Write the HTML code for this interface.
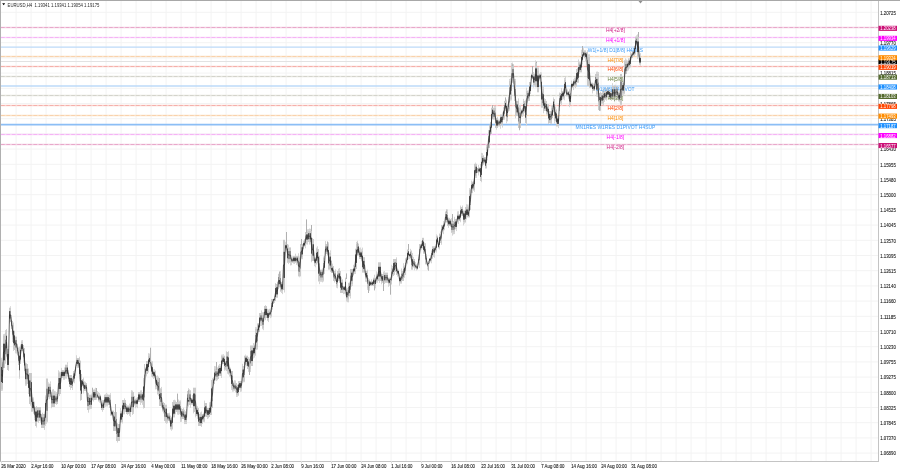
<!DOCTYPE html>
<html><head><meta charset="utf-8"><title>EURUSD,H4</title>
<style>
html,body{margin:0;padding:0;background:#fff;width:900px;height:470px;overflow:hidden}
svg{position:absolute;left:0;top:0;display:block}
text{font-family:"Liberation Sans",Arial,sans-serif;font-size:5.2px;white-space:pre}
.b{stroke:#1a1a1a;stroke-width:0.1px}
</style></head>
<body>
<svg width="900" height="470" viewBox="0 0 900 470">
<path d="M16.1 1V461 M31.1 1V461 M46.1 1V461 M61.1 1V461 M76.1 1V461 M91.1 1V461 M106.1 1V461 M121.1 1V461 M136.1 1V461 M151.1 1V461 M166.1 1V461 M181.1 1V461 M196.1 1V461 M211.1 1V461 M226.1 1V461 M241.1 1V461 M256.1 1V461 M271.1 1V461 M286.1 1V461 M301.1 1V461 M316.1 1V461 M331.1 1V461 M346.1 1V461 M361.1 1V461 M376.1 1V461 M391.1 1V461 M406.1 1V461 M421.1 1V461 M436.1 1V461 M451.1 1V461 M466.1 1V461 M481.1 1V461 M496.1 1V461 M511.1 1V461 M526.1 1V461 M541.1 1V461 M556.1 1V461 M571.1 1V461 M586.1 1V461 M601.1 1V461 M616.1 1V461 M631.1 1V461 M646.1 1V461 M661.1 1V461 M676.1 1V461 M691.1 1V461 M706.1 1V461 M721.1 1V461 M736.1 1V461 M751.1 1V461 M766.1 1V461 M781.1 1V461 M796.1 1V461 M811.1 1V461 M826.1 1V461 M841.1 1V461 M856.1 1V461 M871.1 1V461 M1 12.3H878 M1 27.5H878 M1 42.7H878 M1 57.9H878 M1 73.1H878 M1 88.3H878 M1 103.5H878 M1 118.7H878 M1 133.9H878 M1 149.1H878 M1 164.3H878 M1 179.5H878 M1 194.7H878 M1 209.9H878 M1 225.1H878 M1 240.3H878 M1 255.5H878 M1 270.7H878 M1 285.9H878 M1 301.1H878 M1 316.3H878 M1 331.5H878 M1 346.7H878 M1 361.9H878 M1 377.1H878 M1 392.3H878 M1 407.5H878 M1 422.7H878 M1 437.9H878 M1 453.1H878" stroke="#f3f3f3" stroke-width="1" fill="none"/>
<path d="M1 27.5H878" stroke="#f4d0e2" stroke-width="1.3"/>
<path d="M1 27.5H878" stroke="#e8a8ca" stroke-width="1.1" stroke-dasharray="3.7 1.7"/>
<path d="M1 37.5H878" stroke="#f9d6f9" stroke-width="1.3"/>
<path d="M1 37.5H878" stroke="#f5b4f5" stroke-width="1.1" stroke-dasharray="3.7 1.7"/>
<path d="M1 47.1H878" stroke="#bcdaf8" stroke-width="1.4"/>
<path d="M1 56.5H878" stroke="#fbe2c8" stroke-width="1.3"/>
<path d="M1 56.5H878" stroke="#f9d2ac" stroke-width="1.1" stroke-dasharray="3.7 1.7"/>
<path d="M1 66.5H878" stroke="#f9d2ce" stroke-width="1.3"/>
<path d="M1 66.5H878" stroke="#f5b0aa" stroke-width="1.1" stroke-dasharray="3.7 1.7"/>
<path d="M1 76.5H878" stroke="#e6e6e0" stroke-width="1.3"/>
<path d="M1 76.5H878" stroke="#d4d4cc" stroke-width="1.1" stroke-dasharray="3.7 1.7"/>
<path d="M1 86H878" stroke="#bcdaf8" stroke-width="1.4"/>
<path d="M1 95.5H878" stroke="#e6e6e0" stroke-width="1.3"/>
<path d="M1 95.5H878" stroke="#d4d4cc" stroke-width="1.1" stroke-dasharray="3.7 1.7"/>
<path d="M1 105.5H878" stroke="#f9d2ce" stroke-width="1.3"/>
<path d="M1 105.5H878" stroke="#f5b0aa" stroke-width="1.1" stroke-dasharray="3.7 1.7"/>
<path d="M1 115.5H878" stroke="#fbe2c8" stroke-width="1.3"/>
<path d="M1 115.5H878" stroke="#f9d2ac" stroke-width="1.1" stroke-dasharray="3.7 1.7"/>
<path d="M1 124.7H878" stroke="#8cbef5" stroke-width="1.8"/>
<path d="M1 134.5H878" stroke="#f9d6f9" stroke-width="1.3"/>
<path d="M1 134.5H878" stroke="#f5b4f5" stroke-width="1.1" stroke-dasharray="3.7 1.7"/>
<path d="M1 144.5H878" stroke="#f4d0e2" stroke-width="1.3"/>
<path d="M1 144.5H878" stroke="#e8a8ca" stroke-width="1.1" stroke-dasharray="3.7 1.7"/>
<path d="M1 61.5H878" stroke="#e2e2e2" stroke-width="1"/>
<path d="M1.5 357.77V360 M1.5 389V390.98 M2.5 362.08V364 M2.5 389V390.75 M3.5 334.27V336 M4.5 333.82V336 M5.5 330.05V333 M5.5 361V363.69 M6.5 328.94V330 M6.5 354V356.6 M8.5 370V370.93 M9.5 322V323.49 M10.5 306.24V307.7 M11.5 314.94V317 M12.5 339V341.96 M13.5 322.53V325 M13.5 349V350.88 M15.5 351V353.33 M16.5 351V353.65 M17.5 343.74V346 M17.5 353V355.34 M19.5 346.73V349 M19.5 377V378.82 M20.5 344.57V345.5 M21.5 340.34V342 M22.5 339.99V342 M23.5 361V362.71 M25.5 362.69V364 M25.5 384V385.87 M26.5 363.19V364 M26.5 384V385.61 M30.5 404V405.68 M31.5 411V411.95 M32.5 397.45V399 M32.5 411V411.8 M33.5 397.4V399 M33.5 411V413.72 M34.5 401.65V403 M34.5 418.5V420.1 M36.5 406.01V407 M36.5 426V427.55 M37.5 421V421.85 M38.5 421V422.99 M40.5 421V422.61 M42.5 412.71V414 M44.5 428V429.94 M45.5 395.39V396.25 M45.5 424.5V425.87 M46.5 421V423.86 M47.5 421V422.29 M48.5 382.35V383.6 M49.5 397V399.24 M50.5 381.35V383.6 M51.5 407V408.19 M52.5 389.44V392 M53.5 389.12V392 M54.5 390.87V392 M55.5 391.38V394 M56.5 391.99V394 M56.5 404V404.83 M58.5 370.28V373 M59.5 371.56V373 M59.5 394V396.09 M60.5 371.91V373 M61.5 367.92V370 M63.5 378V379.77 M64.5 367.44V370 M64.5 378V379.84 M65.5 376.6V378.54 M66.5 376.6V378.63 M67.5 362.2V364.7 M70.5 388V389.97 M72.5 388V390.03 M73.5 381V382.07 M74.5 369.67V371 M74.5 381V383.27 M75.5 373.5V375.88 M76.5 355.26V358 M77.5 366V367.87 M78.5 366V367.75 M79.5 356.77V358 M79.5 379V381.39 M80.5 400V400.84 M83.5 377.62V379 M83.5 391V393.51 M84.5 381.27V383 M85.5 381.87V383 M86.5 391V391.93 M87.5 392.04V393 M88.5 410V412.68 M89.5 408V409.55 M90.5 408V409.08 M91.5 393.66V394.7 M91.5 408V408.91 M92.5 388.13V389.6 M93.5 400V401.56 M94.5 388.77V389.6 M95.5 387.76V389.6 M96.5 398V399.89 M97.5 391.09V393 M98.5 392.07V394.7 M99.5 393.14V394.7 M99.5 401.5V402.59 M100.5 401.5V402.66 M102.5 400.17V401.5 M102.5 410V411.81 M103.5 400.12V401.5 M104.5 405V407.92 M105.5 393.9V394.7 M105.5 405V406.84 M106.5 392.79V394.7 M106.5 405V406.38 M107.5 393.81V394.7 M107.5 405V406.47 M110.5 393.18V394.7 M117.5 423.13V424 M117.5 441V442.59 M120.5 408.05V410.6 M122.5 422.5V423.46 M123.5 412V414.43 M124.5 398.36V400 M124.5 412V414.3 M126.5 404.14V405.5 M127.5 414V414.93 M129.5 403.56V405.5 M129.5 414V415.83 M130.5 414V416.95 M131.5 390.19V392 M132.5 390.61V392 M132.5 412V414.88 M133.5 412V413.95 M134.5 396.1V398.7 M135.5 405.5V408.27 M136.5 397.89V398.7 M136.5 405.5V407.29 M137.5 397.14V398.7 M137.5 405.5V408.15 M140.5 390.38V392 M140.5 402V405 M141.5 390.26V392 M141.5 402V402.91 M142.5 402V404.86 M143.5 378.08V380 M143.5 407V408.62 M146.5 374V376.41 M148.5 353.16V356 M148.5 370.6V372.44 M149.5 353.57V356 M150.5 364V366.03 M151.5 362.84V364 M151.5 374V376.79 M152.5 361.21V364 M153.5 369.38V370.6 M153.5 377.4V378.95 M154.5 369.23V370.6 M155.5 387.7V389.41 M156.5 375.86V377.4 M156.5 387.7V389.11 M157.5 375.49V377.4 M158.5 376.6V378 M158.5 394.5V396.18 M160.5 388.13V389 M161.5 386.91V389 M161.5 406V407.66 M163.5 401.96V403 M163.5 411.5V413.45 M165.5 421V423.01 M166.5 421V423.82 M167.5 412.92V414 M167.5 421V423.2 M168.5 413.05V414 M169.5 412.71V414 M170.5 415.59V417.4 M171.5 429.4V430.72 M173.5 400.1V402 M174.5 399.73V402 M175.5 400.46V402 M175.5 412V414.3 M177.5 399.07V402 M177.5 412V414.6 M178.5 399.53V402 M178.5 412V414.89 M179.5 400.71V402 M179.5 412V414.26 M180.5 400.33V402 M180.5 419V421.94 M181.5 408.07V409 M181.5 419V421.78 M183.5 407.79V409 M184.5 409.74V412 M184.5 422.5V424.12 M185.5 411.19V412 M185.5 422.5V424.07 M186.5 409.08V412 M186.5 422.5V424.08 M187.5 405V405.91 M188.5 388.18V391 M188.5 405V406.6 M189.5 389.3V391 M190.5 390.12V391 M190.5 405V407.82 M192.5 395.09V398 M193.5 412V413.41 M195.5 416V417.31 M197.5 406.25V408 M197.5 416V418.84 M200.5 412.4V414 M201.5 411.54V414 M201.5 426V426.94 M202.5 421V423.96 M203.5 421V421.98 M204.5 400.64V403 M204.5 421V422.32 M207.5 417V419.05 M208.5 417V418.34 M209.5 402.25V405 M210.5 402.02V405 M212.5 378.16V380 M213.5 384V385.45 M214.5 366.06V369 M215.5 366.29V369 M215.5 379V380.37 M216.5 379V381.11 M217.5 367.39V369 M217.5 379V380.25 M219.5 363.98V365.5 M220.5 364.25V365.5 M221.5 354.68V355.7 M221.5 376V378.01 M222.5 354.54V355.7 M223.5 354.22V355.7 M224.5 369V370.72 M225.5 369V370.23 M226.5 351.19V352 M227.5 371V373.74 M228.5 351.17V352 M229.5 374.5V376.67 M230.5 374.5V375.92 M231.5 388V389.88 M232.5 390.6V391.68 M233.5 390.6V391.52 M234.5 380.21V383 M235.5 380.47V383 M235.5 390.6V392.29 M236.5 395.7V396.98 M237.5 395.7V396.77 M240.5 389.8V391.92 M241.5 389.8V391.52 M242.5 363.75V366 M242.5 381V382.76 M243.5 381V382.32 M244.5 381V382.2 M245.5 354.62V355.7 M245.5 364V365 M246.5 364V366.2 M248.5 357.09V359 M248.5 369V371.89 M250.5 369V371.96 M253.5 343.04V345.5 M253.5 355.7V358.47 M254.5 355.7V357.6 M255.5 327.12V328.5 M256.5 327.3V328.5 M256.5 347V349.86 M257.5 347V349.53 M260.5 323V325.98 M261.5 310.45V313 M261.5 323V325.98 M262.5 312.22V314.7 M262.5 328V329.19 M263.5 312.1V314.7 M263.5 328V330.21 M265.5 305.13V306 M265.5 318V320.16 M267.5 308.76V311 M267.5 320V320.81 M268.5 309.41V311 M268.5 320V322.08 M269.5 308.83V311 M269.5 316V317.1 M270.5 309.87V311 M270.5 316V318.2 M271.5 316V317.38 M273.5 301V303.86 M274.5 295.71V298.5 M274.5 301V302.97 M275.5 283.07V284 M277.5 281.86V284 M278.5 287.4V288.88 M279.5 271.04V273.8 M280.5 271.14V273.8 M281.5 291.7V293 M282.5 281.11V282 M282.5 291.7V294.15 M284.5 290V292.53 M285.5 241.79V244 M286.5 249V250.37 M288.5 244.66V247.4 M288.5 262.8V264.13 M290.5 262.8V265.45 M291.5 262.8V265.19 M292.5 256.43V257.7 M293.5 262.8V263.66 M294.5 262.8V263.91 M295.5 253.68V256 M296.5 262.8V264.9 M298.5 253.29V256 M299.5 256.45V257.7 M299.5 276.4V277.28 M301.5 257.7V258.72 M302.5 257.7V259.2 M303.5 240.64V242 M303.5 246.6V248.97 M304.5 239.08V242 M305.5 246.6V248.31 M306.5 242V244.35 M307.5 229.3V232 M307.5 242V244.6 M308.5 229.16V230.4 M309.5 228.52V230.4 M309.5 242V244.55 M310.5 228.84V230.4 M311.5 261V262.27 M312.5 237.96V239 M314.5 264.5V266.18 M315.5 264.5V267.25 M316.5 247.62V249 M317.5 246.26V249 M317.5 261V262.81 M319.5 256.18V257.7 M319.5 281.5V284.15 M320.5 280V281.77 M321.5 280V281.82 M322.5 268.38V269.6 M322.5 280V282.35 M323.5 256.56V257.7 M323.5 280V281.52 M324.5 256.18V257.7 M324.5 271V273.95 M325.5 241.08V244 M325.5 254V255.65 M327.5 241.8V244 M327.5 254V255.25 M328.5 242.32V244 M330.5 250.37V252.5 M330.5 269.6V272.03 M331.5 263.94V266 M332.5 263.61V266 M334.5 281V282.49 M335.5 269.28V271 M336.5 286V287.73 M337.5 286V288.29 M338.5 268.76V271 M339.5 268.06V271 M339.5 281V283 M341.5 277.34V279.4 M343.5 291.3V294.19 M344.5 291.3V293.78 M345.5 294.7V295.62 M346.5 288.77V289.6 M346.5 299.8V301.53 M347.5 288.22V289.6 M347.5 299.8V302.23 M348.5 299.8V302.36 M349.5 281.72V282.8 M350.5 296.4V298.44 M351.5 284.5V286.71 M352.5 284.5V285.95 M353.5 264.77V267.4 M353.5 272.6V275.27 M354.5 266.04V267.4 M354.5 272.6V273.81 M355.5 272.6V273.94 M356.5 241.86V243.6 M357.5 240.76V243.6 M359.5 247.77V250.4 M360.5 247.51V250.4 M361.5 249.29V250.4 M361.5 259V261.51 M362.5 247.61V250.4 M365.5 279.4V281.72 M366.5 279.4V282.14 M367.5 269.58V270.9 M367.5 288V289.88 M368.5 278.28V279.4 M368.5 288V289.9 M369.5 288V290.65 M371.5 279.28V281 M374.5 274.74V277.7 M375.5 286V288.38 M376.5 271.3V274 M376.5 281V282.84 M377.5 281V282.76 M379.5 281V282.91 M381.5 282.8V284.3 M383.5 271.61V274 M384.5 271.14V272.6 M384.5 282.8V284.02 M388.5 284.5V286.77 M389.5 284.5V285.7 M391.5 264.79V267.4 M392.5 265.94V267.4 M392.5 276V277.5 M394.5 274V275.06 M396.5 257.35V259 M397.5 275V276.71 M398.5 275V276.13 M399.5 273.7V276 M399.5 282.8V285.73 M400.5 282.8V283.64 M401.5 268.49V270.9 M401.5 282.8V283.71 M403.5 263.22V265.4 M404.5 275V277.92 M405.5 258.17V259 M406.5 257.52V259 M407.5 263.3V264.23 M408.5 257V259.29 M409.5 257V259.22 M410.5 248.85V250.5 M412.5 252.96V255.9 M413.5 256.87V259 M414.5 268.6V270.34 M415.5 262.09V264.4 M416.5 269.7V270.5 M417.5 263.31V265.4 M418.5 254.37V257 M419.5 265.4V268.07 M421.5 240.98V243 M424.5 242.64V244 M425.5 243.01V244 M426.5 253.82V255.9 M427.5 267.5V269.6 M428.5 261V262.2 M429.5 261.2V263.14 M430.5 255.01V258 M430.5 261.2V262.23 M431.5 261.2V263.31 M432.5 258V258.87 M433.5 254.8V256.85 M434.5 254.8V257.68 M436.5 234.36V235.6 M436.5 251.6V252.58 M439.5 248.4V249.46 M440.5 231.46V233.5 M441.5 243V244.79 M443.5 221.14V222.5 M443.5 231.4V234.19 M444.5 227.7V230.23 M446.5 209.04V211.5 M447.5 209.4V211.5 M448.5 217.63V219 M448.5 226V227.86 M449.5 217.89V219 M450.5 226V226.88 M451.5 218.05V220.9 M452.5 219.12V220.9 M452.5 232.8V235.64 M453.5 232.8V234.35 M454.5 216.82V219 M454.5 232.8V234.09 M456.5 229.4V231.11 M457.5 211.35V214 M457.5 221V222.17 M458.5 211.21V214 M458.5 221V223.95 M460.5 205.57V207 M460.5 221V222.24 M462.5 205.56V207 M463.5 222.5V225.45 M464.5 222.5V223.61 M466.5 204.19V207 M466.5 217.4V219.46 M467.5 204.51V207 M468.5 209.61V210.6 M469.5 188.15V189.4 M471.5 180.59V183 M471.5 190.6V192.99 M472.5 190.6V193.25 M473.5 180.87V181.7 M474.5 190.6V191.81 M475.5 162.64V163.8 M475.5 176V178.11 M476.5 176V177.93 M478.5 164.94V167.3 M478.5 173V175.45 M481.5 152.87V155.8 M481.5 181V182.2 M482.5 153.2V155.8 M482.5 164.7V165.71 M483.5 154.96V155.8 M486.5 144.91V146.8 M487.5 145.11V146.8 M487.5 158.3V160.4 M488.5 129.94V132 M490.5 122.05V124.7 M492.5 106.16V107.7 M492.5 116V118.96 M494.5 105.76V107.7 M495.5 105.97V107.7 M496.5 128V129.75 M497.5 116.79V117.9 M500.5 126.4V128.69 M502.5 112.56V114.5 M502.5 124.7V127.59 M503.5 107.18V109.4 M503.5 117.9V120.01 M504.5 117.9V119.73 M505.5 99.83V100.9 M505.5 109.4V110.85 M506.5 99.56V100.9 M506.5 121.3V123.3 M508.5 96.64V99 M508.5 109.4V111.41 M509.5 78.92V80.4 M509.5 109.4V110.69 M510.5 78.31V80.4 M510.5 99V100.58 M511.5 62.98V65 M511.5 99V100.43 M512.5 62.5V65 M512.5 82V82.95 M513.5 64.06V65 M513.5 82V83.77 M514.5 79.1V80.4 M515.5 78.86V80.4 M515.5 116V118.29 M518.5 98.37V100.9 M519.5 104.98V107.7 M519.5 128V130.48 M520.5 104.78V107.7 M522.5 107.6V109.4 M522.5 114.5V116.89 M523.5 98.88V100.9 M523.5 114.5V116.01 M524.5 111V112.78 M525.5 99.78V100.9 M526.5 87.78V90.6 M526.5 123V125.66 M527.5 100.9V102.64 M528.5 89.7V90.6 M531.5 78.7V80.29 M532.5 70.71V73.6 M533.5 71.98V73.6 M533.5 85.5V87.53 M535.5 60.33V62.5 M537.5 67.25V70.2 M538.5 67.43V70.2 M540.5 72.16V73.6 M541.5 72.4V73.6 M542.5 86.01V89 M543.5 86.47V89 M543.5 111V113.32 M544.5 98.25V100.9 M545.5 99V100.9 M547.5 114.5V115.57 M548.5 123V124.02 M550.5 123V123.83 M551.5 105.33V107.7 M551.5 123V124.17 M552.5 104.91V107.7 M553.5 97.35V99 M553.5 109.4V112.16 M554.5 121.3V123.46 M555.5 106.55V109.4 M558.5 126.4V128.06 M559.5 92.52V94 M560.5 103V104.18 M561.5 88.06V91 M561.5 103V105.04 M562.5 98V99.69 M563.5 88.38V91 M563.5 98V99.34 M564.5 77.98V79.3 M564.5 98V100.26 M565.5 76.95V79.3 M565.5 91V92.39 M566.5 89.22V91 M567.5 89.42V91 M568.5 96.3V99.19 M569.5 89.2V91 M569.5 104.8V107.15 M571.5 80.56V82.7 M571.5 87.8V90.52 M573.5 87.8V90.05 M574.5 77.64V79.3 M574.5 86V87.19 M575.5 77.04V79.3 M575.5 86V88.04 M576.5 86V86.95 M577.5 67.92V69 M578.5 59.4V62.2 M579.5 72.4V73.81 M581.5 49.75V52 M582.5 62.2V64.38 M583.5 48.19V51 M584.5 50.11V51 M584.5 57V58.24 M585.5 50.11V51 M585.5 58.8V61 M587.5 50.24V52 M588.5 54.36V57 M589.5 54.32V57 M590.5 81.66V82.7 M592.5 91V93.44 M593.5 83.4V84.4 M596.5 71.66V74 M596.5 94.6V96.53 M597.5 71.52V74 M597.5 94.6V96.95 M598.5 72V74 M599.5 110V110.93 M600.5 91.76V93 M600.5 110V111.1 M601.5 103V104.33 M602.5 90.14V93 M602.5 103V104.46 M603.5 88.96V91 M603.5 103V105.59 M604.5 99.7V101.97 M605.5 88.51V91 M606.5 87.91V89.5 M606.5 99.7V100.63 M607.5 87.16V89.5 M607.5 96.3V97.35 M608.5 87.9V89.5 M608.5 96.3V97.26 M611.5 89.12V91 M611.5 99.7V100.92 M612.5 83.18V86 M614.5 84.89V86 M614.5 99.7V102.2 M615.5 84.79V86 M616.5 98V100.53 M617.5 98V99.21 M618.5 91.39V93 M619.5 101.4V102.29 M622.5 81.55V82.7 M622.5 93V95.08 M623.5 93V94.78 M624.5 60.11V61 M624.5 93V94.22 M625.5 58.35V61 M626.5 59.58V61 M627.5 60.45V62 M627.5 69V71.27 M628.5 69V70.45 M629.5 67.3V68.53 M630.5 51.39V53.2 M635.5 53V54.56 M636.5 35.38V36.6 M637.5 34.35V36.6 M637.5 57V59.08 M639.5 54.6V55.8 M640.5 53.1V55.8 M640.5 64.7V65.71" stroke="#d4d4d4" stroke-width="1" fill="none"/>
<path d="M1.5 360V389 M2.5 364V389 M3.5 336V368 M4.5 336V368 M5.5 333V361 M6.5 330V354 M7.5 349V370 M8.5 349V370 M9.5 307.7V322 M10.5 307.7V322 M11.5 317V329 M12.5 321V339 M13.5 325V349 M14.5 330.8V350 M15.5 336.6V351 M16.5 336.6V351 M17.5 346V353 M18.5 347.5V365 M19.5 349V377 M20.5 345.5V364 M21.5 342V351 M22.5 342V351 M23.5 345V361 M24.5 348V371 M25.5 364V384 M26.5 364V384 M27.5 364V384 M28.5 368.5V394 M29.5 373V404 M30.5 373V404 M31.5 373V411 M32.5 399V411 M33.5 399V411 M34.5 403V418.5 M35.5 407V426 M36.5 407V426 M37.5 407V421 M38.5 407V421 M39.5 407V421 M40.5 407V421 M41.5 414V428 M42.5 414V428 M43.5 414V428 M44.5 414V428 M45.5 396.25V424.5 M46.5 378.5V421 M47.5 378.5V421 M48.5 383.6V397 M49.5 383.6V397 M50.5 383.6V397 M51.5 392V407 M52.5 392V407 M53.5 392V407 M54.5 392V407 M55.5 394V404 M56.5 394V404 M57.5 394V404 M58.5 373V394 M59.5 373V394 M60.5 373V394 M61.5 370V378 M62.5 370V378 M63.5 370V378 M64.5 370V378 M65.5 364.7V376.6 M66.5 364.7V376.6 M67.5 364.7V376.6 M68.5 369.85V381.8 M69.5 375V387 M70.5 375V388 M71.5 375V388 M72.5 379V388 M73.5 371V381 M74.5 371V381 M75.5 364.5V373.5 M76.5 358V366 M77.5 358V366 M78.5 358V366 M79.5 358V379 M80.5 360.6V400 M81.5 374V400 M82.5 379V386 M83.5 379V391 M84.5 383V391 M85.5 383V391 M86.5 383V391 M87.5 393V410 M88.5 393V410 M89.5 394.7V408 M90.5 394.7V408 M91.5 394.7V408 M92.5 389.6V400 M93.5 389.6V400 M94.5 389.6V400 M95.5 389.6V400 M96.5 393V398 M97.5 393V398 M98.5 394.7V401.5 M99.5 394.7V401.5 M100.5 394.7V401.5 M101.5 401.5V410 M102.5 401.5V410 M103.5 401.5V410 M104.5 394.7V405 M105.5 394.7V405 M106.5 394.7V405 M107.5 394.7V405 M108.5 394.7V405 M109.5 394.7V408 M110.5 394.7V415.7 M111.5 410.6V415.7 M112.5 410.6V415.7 M113.5 410.6V431 M114.5 412V431 M115.5 412V431 M116.5 412V441 M117.5 424V441 M118.5 424V441 M119.5 424V441 M120.5 410.6V422.5 M121.5 410.6V422.5 M122.5 400V422.5 M123.5 400V412 M124.5 400V412 M125.5 400V412 M126.5 405.5V414 M127.5 405.5V414 M128.5 405.5V414 M129.5 405.5V414 M130.5 405.5V414 M131.5 392V412 M132.5 392V412 M133.5 392V412 M134.5 398.7V405.5 M135.5 398.7V405.5 M136.5 398.7V405.5 M137.5 398.7V405.5 M138.5 392V402 M139.5 392V402 M140.5 392V402 M141.5 392V402 M142.5 392V402 M143.5 380V407 M144.5 364V408 M145.5 367.4V374 M146.5 361V374 M147.5 361V374 M148.5 356V370.6 M149.5 356V364 M150.5 356V364 M151.5 364V374 M152.5 364V377.4 M153.5 370.6V377.4 M154.5 370.6V377.4 M155.5 370.6V387.7 M156.5 377.4V387.7 M157.5 377.4V394.5 M158.5 378V394.5 M159.5 378V406 M160.5 389V406 M161.5 389V406 M162.5 403V411.5 M163.5 403V411.5 M164.5 403V421 M165.5 404.7V421 M166.5 404.7V421 M167.5 414V421 M168.5 414V421 M169.5 414V421 M170.5 417.4V429.4 M171.5 417.4V429.4 M172.5 402V429.4 M173.5 402V417.4 M174.5 402V417.4 M175.5 402V412 M176.5 402V412 M177.5 402V412 M178.5 402V412 M179.5 402V412 M180.5 402V419 M181.5 409V419 M182.5 409V419 M183.5 409V419 M184.5 412V422.5 M185.5 412V422.5 M186.5 412V422.5 M187.5 391V405 M188.5 391V405 M189.5 391V405 M190.5 391V405 M191.5 398V404.7 M192.5 398V404.7 M193.5 387.7V412 M194.5 387.7V412 M195.5 387.7V416 M196.5 408V416 M197.5 408V416 M198.5 408V426 M199.5 414V426 M200.5 414V426 M201.5 414V426 M202.5 414V421 M203.5 414V421 M204.5 403V421 M205.5 403V416.6 M206.5 403V417 M207.5 408V417 M208.5 408V417 M209.5 405V417 M210.5 405V415 M211.5 380V415 M212.5 380V408 M213.5 379V384 M214.5 369V384 M215.5 369V379 M216.5 369V379 M217.5 369V379 M218.5 365.5V379 M219.5 365.5V376 M220.5 365.5V376 M221.5 355.7V376 M222.5 355.7V364 M223.5 355.7V364 M224.5 355.7V369 M225.5 361V369 M226.5 352V371 M227.5 352V371 M228.5 352V374.5 M229.5 367.7V374.5 M230.5 367.7V374.5 M231.5 371V388 M232.5 371V390.6 M233.5 383V390.6 M234.5 383V390.6 M235.5 383V390.6 M236.5 383V395.7 M237.5 384.7V395.7 M238.5 381V395.7 M239.5 381V389.8 M240.5 381V389.8 M241.5 381V389.8 M242.5 366V381 M243.5 366V381 M244.5 355.7V381 M245.5 355.7V364 M246.5 355.7V364 M247.5 355.7V369 M248.5 359V369 M249.5 359V369 M250.5 345.5V369 M251.5 345.5V366 M252.5 345.5V366 M253.5 345.5V355.7 M254.5 345.5V355.7 M255.5 328.5V355.7 M256.5 328.5V347 M257.5 323.4V347 M258.5 323.4V332 M259.5 313V332 M260.5 313V323 M261.5 313V323 M262.5 314.7V328 M263.5 314.7V328 M264.5 306V318 M265.5 306V318 M266.5 306V318 M267.5 311V320 M268.5 311V320 M269.5 311V316 M270.5 311V316 M271.5 299V316 M272.5 299V309.6 M273.5 298.5V301 M274.5 298.5V301 M275.5 284V301 M276.5 284V297.7 M277.5 284V297.7 M278.5 273.8V287.4 M279.5 273.8V287.4 M280.5 273.8V291.7 M281.5 282V291.7 M282.5 282V291.7 M283.5 239.8V290 M284.5 239.8V290 M285.5 244V249 M286.5 244V249 M287.5 244V262.8 M288.5 247.4V262.8 M289.5 247.4V262.8 M290.5 247.4V262.8 M291.5 257.7V262.8 M292.5 257.7V262.8 M293.5 256V262.8 M294.5 256V262.8 M295.5 256V262.8 M296.5 256V262.8 M297.5 256V262.8 M298.5 256V276.4 M299.5 257.7V276.4 M300.5 244V276.4 M301.5 244V257.7 M302.5 244V257.7 M303.5 242V246.6 M304.5 242V246.6 M305.5 232V246.6 M306.5 232V242 M307.5 232V242 M308.5 230.4V242 M309.5 230.4V242 M310.5 230.4V242 M311.5 230.4V261 M312.5 239V261 M313.5 239V261 M314.5 257.7V264.5 M315.5 257.7V264.5 M316.5 249V264.5 M317.5 249V261 M318.5 249V281.5 M319.5 257.7V281.5 M320.5 269.6V280 M321.5 269.6V280 M322.5 269.6V280 M323.5 257.7V280 M324.5 257.7V271 M325.5 244V254 M326.5 244V254 M327.5 244V254 M328.5 244V269.6 M329.5 252.5V269.6 M330.5 252.5V269.6 M331.5 266V273 M332.5 266V273 M333.5 266V281 M334.5 271V281 M335.5 271V281 M336.5 277.7V286 M337.5 271V286 M338.5 271V281 M339.5 271V281 M340.5 271V293 M341.5 279.4V293 M342.5 279.4V293 M343.5 286V291.3 M344.5 286V291.3 M345.5 277.7V294.7 M346.5 289.6V299.8 M347.5 289.6V299.8 M348.5 282.8V299.8 M349.5 282.8V296.4 M350.5 269V296.4 M351.5 269V284.5 M352.5 269V284.5 M353.5 267.4V272.6 M354.5 267.4V272.6 M355.5 248.7V272.6 M356.5 243.6V269 M357.5 243.6V255.5 M358.5 243.6V255.5 M359.5 250.4V259 M360.5 250.4V259 M361.5 250.4V259 M362.5 250.4V272.6 M363.5 257.2V272.6 M364.5 257.2V272.6 M365.5 270.9V279.4 M366.5 270.9V279.4 M367.5 270.9V288 M368.5 279.4V288 M369.5 279.4V288 M370.5 281V286 M371.5 281V286 M372.5 281V286 M373.5 277.7V286 M374.5 277.7V286 M375.5 277.7V286 M376.5 274V281 M377.5 274V281 M378.5 262.3V281 M379.5 262.3V281 M380.5 262.3V281 M381.5 274V282.8 M382.5 274V282.8 M383.5 274V282.8 M384.5 272.6V282.8 M385.5 272.6V282.8 M386.5 272.6V282.8 M387.5 272.6V282.8 M388.5 277.7V284.5 M389.5 277.7V284.5 M390.5 277.7V284.5 M391.5 267.4V284.5 M392.5 267.4V276 M393.5 259V276 M394.5 259V274 M395.5 259V271.8 M396.5 259V275 M397.5 269.7V275 M398.5 269.7V275 M399.5 276V282.8 M400.5 276V282.8 M401.5 270.9V282.8 M402.5 270.9V281 M403.5 265.4V281 M404.5 265.4V275 M405.5 259V275 M406.5 259V263.3 M407.5 249.5V263.3 M408.5 249.5V257 M409.5 253.7V257 M410.5 250.5V258 M411.5 250.5V269.7 M412.5 255.9V269.7 M413.5 259V267.5 M414.5 259V268.6 M415.5 264.4V268.6 M416.5 264.4V269.7 M417.5 265.4V269.7 M418.5 257V265.4 M419.5 244V265.4 M420.5 244V249.5 M421.5 243V249.5 M422.5 237.8V248.4 M423.5 237.8V253.7 M424.5 244V253.7 M425.5 244V264.4 M426.5 255.9V264.4 M427.5 262.2V267.5 M428.5 262.2V267.5 M429.5 258V261.2 M430.5 258V261.2 M431.5 250.5V261.2 M432.5 246.3V258 M433.5 246.3V254.8 M434.5 246.3V254.8 M435.5 246.3V251.6 M436.5 235.6V251.6 M437.5 235.6V244.1 M438.5 243V248.4 M439.5 233.5V248.4 M440.5 233.5V243 M441.5 225V243 M442.5 225V231.4 M443.5 222.5V231.4 M444.5 222.5V227.7 M445.5 211.5V222.5 M446.5 211.5V222.5 M447.5 211.5V226 M448.5 219V226 M449.5 219V226 M450.5 219V226 M451.5 220.9V232.8 M452.5 220.9V232.8 M453.5 220.9V232.8 M454.5 219V232.8 M455.5 219V229.4 M456.5 219V229.4 M457.5 214V221 M458.5 214V221 M459.5 214V221 M460.5 207V221 M461.5 207V215.7 M462.5 207V215.7 M463.5 210.6V222.5 M464.5 210.6V222.5 M465.5 207V222.5 M466.5 207V217.4 M467.5 207V217.4 M468.5 210.6V217.4 M469.5 189.4V217.4 M470.5 189.4V210 M471.5 183V190.6 M472.5 181.7V190.6 M473.5 181.7V190.6 M474.5 163.8V190.6 M475.5 163.8V176 M476.5 163.8V176 M477.5 169V173 M478.5 167.3V173 M479.5 167.3V172.4 M480.5 164V181 M481.5 155.8V181 M482.5 155.8V164.7 M483.5 155.8V164.7 M484.5 157V163.4 M485.5 157V168.5 M486.5 146.8V168.5 M487.5 146.8V158.3 M488.5 132V148 M489.5 124.7V148 M490.5 124.7V134 M491.5 107.7V134 M492.5 107.7V116 M493.5 107.7V119.6 M494.5 107.7V119.6 M495.5 107.7V128 M496.5 117.9V128 M497.5 117.9V128 M498.5 119.6V126.4 M499.5 119.6V126.4 M500.5 114.5V126.4 M501.5 114.5V124.7 M502.5 114.5V124.7 M503.5 109.4V117.9 M504.5 100.9V117.9 M505.5 100.9V109.4 M506.5 100.9V121.3 M507.5 104.3V121.3 M508.5 99V109.4 M509.5 80.4V109.4 M510.5 80.4V99 M511.5 65V99 M512.5 65V82 M513.5 65V82 M514.5 80.4V100.9 M515.5 80.4V116 M516.5 100.9V116 M517.5 100.9V116 M518.5 100.9V128 M519.5 107.7V128 M520.5 107.7V128 M521.5 109.4V114.5 M522.5 109.4V114.5 M523.5 100.9V114.5 M524.5 100.9V111 M525.5 100.9V123 M526.5 90.6V123 M527.5 90.6V100.9 M528.5 90.6V100.9 M529.5 82V100.9 M530.5 82V94 M531.5 73.6V78.7 M532.5 73.6V78.7 M533.5 73.6V85.5 M534.5 73.6V85.5 M535.5 62.5V87.2 M536.5 62.5V87.2 M537.5 70.2V92.3 M538.5 70.2V92.3 M539.5 73.6V78.7 M540.5 73.6V78.7 M541.5 73.6V107.7 M542.5 89V107.7 M543.5 89V111 M544.5 100.9V111 M545.5 100.9V111 M546.5 100.9V114.5 M547.5 104.3V114.5 M548.5 104.3V123 M549.5 111V123 M550.5 111V123 M551.5 107.7V123 M552.5 107.7V118 M553.5 99V109.4 M554.5 99V121.3 M555.5 109.4V121.3 M556.5 109.4V126.4 M557.5 116V126.4 M558.5 116V126.4 M559.5 94V111 M560.5 93V103 M561.5 91V103 M562.5 91V98 M563.5 91V98 M564.5 79.3V98 M565.5 79.3V91 M566.5 91V96.3 M567.5 91V96.3 M568.5 91V96.3 M569.5 91V104.8 M570.5 93V104.8 M571.5 82.7V87.8 M572.5 82.7V87.8 M573.5 79.3V87.8 M574.5 79.3V86 M575.5 79.3V86 M576.5 69V86 M577.5 69V82.7 M578.5 62.2V82.7 M579.5 62.2V72.4 M580.5 62.2V72.4 M581.5 52V72.4 M582.5 52V62.2 M583.5 51V57 M584.5 51V57 M585.5 51V58.8 M586.5 52V58.8 M587.5 52V86 M588.5 57V86 M589.5 57V87.8 M590.5 82.7V87.8 M591.5 82.7V87.8 M592.5 82.7V91 M593.5 84.4V91 M594.5 84.4V91 M595.5 74V86 M596.5 74V94.6 M597.5 74V94.6 M598.5 74V110 M599.5 93V110 M600.5 93V110 M601.5 93V103 M602.5 93V103 M603.5 91V103 M604.5 91V99.7 M605.5 91V99.7 M606.5 89.5V99.7 M607.5 89.5V96.3 M608.5 89.5V96.3 M609.5 89.5V99.7 M610.5 91V99.7 M611.5 91V99.7 M612.5 86V99.7 M613.5 86V99.7 M614.5 86V99.7 M615.5 86V99.7 M616.5 86V98 M617.5 86V98 M618.5 93V101.4 M619.5 93V101.4 M620.5 74V104.8 M621.5 74V104.8 M622.5 82.7V93 M623.5 82.7V93 M624.5 61V93 M625.5 61V74 M626.5 61V74 M627.5 62V69 M628.5 58.3V69 M629.5 58.3V67.3 M630.5 53.2V67.3 M631.5 53.2V58 M632.5 51V58 M633.5 51V55.8 M634.5 46V55.8 M635.5 36.6V53 M636.5 36.6V45.5 M637.5 36.6V57 M638.5 36.6V57 M639.5 55.8V64.7 M640.5 55.8V64.7" stroke="#cacaca" stroke-width="1" fill="none"/>
<g><text x="605.98" y="32.1" font-size="5.1" textLength="18.84" lengthAdjust="spacingAndGlyphs" fill="#d02088">H4[+2/8]</text><text x="605.98" y="42.1" font-size="5.1" textLength="18.84" lengthAdjust="spacingAndGlyphs" fill="#ff00ff">H4[+1/8]</text><text x="587.84" y="51.8" font-size="5.1" textLength="55.13" lengthAdjust="spacingAndGlyphs" fill="#3c9cf8">W1[+1/8] D1[8/8] H4RES</text><text x="607.43" y="61.5" font-size="5.1" textLength="15.95" lengthAdjust="spacingAndGlyphs" fill="#ff8c00">H4[7/8]</text><text x="607.43" y="71.1" font-size="5.1" textLength="15.95" lengthAdjust="spacingAndGlyphs" fill="#ff4500">H4[6/8]</text><text x="607.43" y="80.9" font-size="5.1" textLength="15.95" lengthAdjust="spacingAndGlyphs" fill="#6a8040">H4[5/8]</text><text x="596.15" y="90.7" font-size="5.1" textLength="38.49" lengthAdjust="spacingAndGlyphs" fill="#3c9cf8">D1[6/8] H4PIVOT</text><text x="607.43" y="100.2" font-size="5.1" textLength="15.95" lengthAdjust="spacingAndGlyphs" fill="#6a8040">H4[3/8]</text><text x="607.43" y="110.1" font-size="5.1" textLength="15.95" lengthAdjust="spacingAndGlyphs" fill="#ff4500">H4[2/8]</text><text x="607.43" y="119.9" font-size="5.1" textLength="15.95" lengthAdjust="spacingAndGlyphs" fill="#ff8c00">H4[1/8]</text><text x="575.45" y="129.4" font-size="5.1" textLength="79.91" lengthAdjust="spacingAndGlyphs" fill="#3c9cf8">MN1RES W1RES D1PIVOT H4SUP</text><text x="606.6" y="139.3" font-size="5.1" textLength="17.6" lengthAdjust="spacingAndGlyphs" fill="#ff00ff">H4[-1/8]</text><text x="606.6" y="149.3" font-size="5.1" textLength="17.6" lengthAdjust="spacingAndGlyphs" fill="#d02088">H4[-2/8]</text></g>
<path d="M5.5 339.72V354.28 M10.5 311.13V318.57 M11.5 319.88V326.12 M12.5 325.32V334.68 M15.5 340.06V347.54 M16.5 340.06V347.54 M17.5 347.68V351.32 M18.5 351.7V360.8 M23.5 348.84V357.16 M26.5 368.8V379.2 M27.5 368.8V379.2 M30.5 380.44V396.56 M34.5 406.72V414.78 M38.5 410.36V417.64 M40.5 410.36V417.64 M42.5 417.36V424.64 M43.5 417.36V424.64 M44.5 417.36V424.64 M46.5 388.7V410.8 M47.5 388.7V410.8 M49.5 386.82V393.78 M50.5 386.82V393.78 M51.5 395.6V403.4 M52.5 395.6V403.4 M55.5 396.4V401.6 M56.5 396.4V401.6 M57.5 396.4V401.6 M58.5 378.04V388.96 M65.5 367.56V373.74 M66.5 367.56V373.74 M68.5 372.72V378.93 M72.5 381.16V385.84 M73.5 373.4V378.6 M75.5 366.66V371.34 M76.5 359.92V364.08 M78.5 359.92V364.08 M83.5 381.88V388.12 M85.5 384.92V389.08 M86.5 384.92V389.08 M87.5 397.08V405.92 M88.5 397.08V405.92 M90.5 397.89V404.81 M95.5 392.1V397.5 M97.5 394.2V396.8 M98.5 396.33V399.87 M99.5 396.33V399.87 M102.5 403.54V407.96 M104.5 397.17V402.53 M109.5 397.89V404.81 M110.5 399.74V410.66 M113.5 415.5V426.1 M115.5 416.56V426.44 M116.5 418.96V434.04 M117.5 428.08V436.92 M119.5 428.08V436.92 M124.5 402.88V409.12 M125.5 402.88V409.12 M129.5 407.54V411.96 M131.5 396.8V407.2 M132.5 396.8V407.2 M134.5 400.33V403.87 M135.5 400.33V403.87 M140.5 394.4V399.6 M141.5 394.4V399.6 M144.5 374.56V397.44 M145.5 368.98V372.42 M155.5 374.7V383.6 M157.5 381.5V390.4 M158.5 381.96V390.54 M160.5 393.08V401.92 M161.5 393.08V401.92 M162.5 405.04V409.46 M163.5 405.04V409.46 M164.5 407.32V416.68 M165.5 408.61V417.09 M167.5 415.68V419.32 M168.5 415.68V419.32 M169.5 415.68V419.32 M171.5 420.28V426.52 M180.5 406.08V414.92 M182.5 411.4V416.6 M183.5 411.4V416.6 M184.5 414.52V419.98 M186.5 414.52V419.98 M187.5 394.36V401.64 M189.5 394.36V401.64 M190.5 394.36V401.64 M195.5 394.49V409.21 M199.5 416.88V423.12 M203.5 415.68V419.32 M206.5 406.36V413.64 M212.5 386.72V401.28 M213.5 380.2V382.8 M215.5 371.4V376.6 M216.5 371.4V376.6 M217.5 371.4V376.6 M222.5 357.69V362.01 M225.5 362.92V367.08 M226.5 356.56V366.44 M229.5 369.33V372.87 M232.5 375.7V385.9 M233.5 384.82V388.78 M234.5 384.82V388.78 M235.5 384.82V388.78 M236.5 386.05V392.65 M241.5 383.11V387.69 M242.5 369.6V377.4 M244.5 361.77V374.93 M250.5 351.14V363.36 M255.5 335.03V349.17 M257.5 329.06V341.34 M260.5 315.4V320.6 M261.5 315.4V320.6 M262.5 317.89V324.81 M263.5 317.89V324.81 M264.5 308.88V315.12 M269.5 312.2V314.8 M270.5 312.2V314.8 M271.5 303.08V311.92 M274.5 299.1V300.4 M278.5 277.06V284.14 M280.5 278.1V287.4 M283.5 251.85V277.95 M288.5 251.1V259.1 M289.5 251.1V259.1 M290.5 251.1V259.1 M291.5 258.92V261.58 M292.5 258.92V261.58 M296.5 257.63V261.17 M298.5 260.9V271.5 M299.5 262.19V271.91 M300.5 251.78V268.62 M301.5 247.29V254.41 M305.5 235.5V243.1 M309.5 233.18V239.22 M312.5 244.28V255.72 M314.5 259.33V262.87 M319.5 263.41V275.79 M320.5 272.1V277.5 M321.5 272.1V277.5 M322.5 272.1V277.5 M323.5 263.05V274.65 M325.5 246.4V251.6 M326.5 246.4V251.6 M329.5 256.6V265.5 M331.5 267.68V271.32 M333.5 269.6V277.4 M334.5 273.4V278.6 M335.5 273.4V278.6 M336.5 279.69V284.01 M338.5 273.4V278.6 M342.5 282.66V289.74 M343.5 287.27V290.03 M347.5 292.05V297.35 M348.5 286.88V295.72 M350.5 275.58V289.82 M352.5 272.72V280.78 M357.5 246.46V252.64 M359.5 252.46V256.94 M364.5 260.9V268.9 M365.5 272.94V277.36 M367.5 275V283.9 M371.5 282.2V284.8 M374.5 279.69V284.01 M376.5 275.68V279.32 M381.5 276.11V280.69 M383.5 276.11V280.69 M385.5 275.05V280.35 M386.5 275.05V280.35 M387.5 275.05V280.35 M388.5 279.33V282.87 M391.5 271.5V280.4 M392.5 269.46V273.94 M395.5 262.07V268.73 M397.5 270.97V273.73 M401.5 273.76V279.94 M402.5 273.32V278.58 M403.5 269.14V277.26 M405.5 262.84V271.16 M406.5 260.03V262.27 M410.5 252.3V256.2 M411.5 255.11V265.09 M413.5 261.04V265.46 M414.5 261.3V266.3 M415.5 265.41V267.59 M416.5 265.67V268.43 M418.5 259.02V263.38 M419.5 249.14V260.26 M420.5 245.32V248.18 M425.5 248.9V259.5 M426.5 257.94V262.36 M427.5 263.47V266.23 M431.5 253.07V258.63 M433.5 248.34V252.76 M435.5 247.57V250.33 M440.5 235.78V240.72 M441.5 229.32V238.68 M444.5 223.75V226.45 M445.5 214.14V219.86 M447.5 214.98V222.52 M451.5 223.76V229.94 M452.5 223.76V229.94 M453.5 223.76V229.94 M454.5 222.31V229.49 M462.5 209.09V213.61 M470.5 194.34V205.06 M473.5 183.84V188.46 M475.5 166.73V173.07 M478.5 168.67V171.63 M483.5 157.94V162.56 M484.5 158.54V161.86 M488.5 135.84V144.16 M493.5 110.56V116.74 M494.5 110.56V116.74 M495.5 112.57V123.13 M498.5 121.23V124.77 M499.5 121.23V124.77 M502.5 116.95V122.25 M504.5 104.98V113.82 M507.5 108.38V117.22 M508.5 101.5V106.9 M509.5 87.36V102.44 M511.5 73.16V90.84 M512.5 69.08V77.92 M513.5 69.08V77.92 M514.5 85.32V95.98 M515.5 88.94V107.46 M516.5 104.52V112.38 M518.5 107.4V121.5 M519.5 112.57V123.13 M520.5 112.57V123.13 M522.5 110.62V113.28 M524.5 103.32V108.58 M526.5 98.38V115.22 M527.5 93.07V98.43 M528.5 93.07V98.43 M532.5 74.82V77.48 M534.5 76.46V82.64 M539.5 74.82V77.48 M542.5 93.49V103.21 M545.5 103.32V108.58 M547.5 106.75V112.05 M550.5 113.88V120.12 M551.5 111.37V119.33 M554.5 104.35V115.95 M559.5 98.08V106.92 M566.5 92.27V95.03 M567.5 92.27V95.03 M574.5 80.91V84.39 M575.5 80.91V84.39 M579.5 64.65V69.95 M584.5 52.44V55.56 M587.5 60.16V77.84 M593.5 85.98V89.42 M595.5 76.88V83.12 M597.5 78.94V89.66 M598.5 82.64V101.36 M599.5 97.08V105.92 M601.5 95.4V100.6 M603.5 93.88V100.12 M605.5 93.09V97.61 M611.5 93.09V97.61 M613.5 89.29V96.41 M615.5 89.29V96.41 M616.5 88.88V95.12 M617.5 88.88V95.12 M618.5 95.02V99.38 M620.5 81.39V97.41 M621.5 81.39V97.41 M624.5 68.68V85.32 M625.5 64.12V70.88 M626.5 64.12V70.88 M628.5 60.87V66.43 M631.5 54.35V56.85 M632.5 52.68V56.32 M636.5 38.74V43.36" stroke="#8a8a8a" stroke-width="1" fill="none"/>
<path d="M1.5 366.96V382.04 M2.5 370V383 M3.5 343.68V360.32 M4.5 343.68V360.32 M6.5 335.76V348.24 M7.5 354.04V364.96 M8.5 354.04V364.96 M9.5 311.13V318.57 M13.5 330.76V343.24 M14.5 335.41V345.39 M19.5 355.72V370.28 M20.5 349.94V359.56 M21.5 344.16V348.84 M22.5 344.16V348.84 M24.5 353.52V365.48 M25.5 368.8V379.2 M28.5 374.62V387.88 M29.5 380.44V396.56 M31.5 382.12V401.88 M32.5 401.88V408.12 M33.5 401.88V408.12 M35.5 411.56V421.44 M36.5 411.56V421.44 M37.5 410.36V417.64 M39.5 410.36V417.64 M41.5 417.36V424.64 M45.5 403.03V417.72 M48.5 386.82V393.78 M53.5 395.6V403.4 M54.5 395.6V403.4 M59.5 378.04V388.96 M60.5 378.04V388.96 M61.5 371.92V376.08 M62.5 371.92V376.08 M63.5 371.92V376.08 M64.5 371.92V376.08 M67.5 367.56V373.74 M69.5 377.88V384.12 M70.5 378.12V384.88 M71.5 378.12V384.88 M74.5 373.4V378.6 M77.5 359.92V364.08 M79.5 363.04V373.96 M80.5 370.06V390.54 M81.5 380.24V393.76 M82.5 380.68V384.32 M84.5 384.92V389.08 M89.5 397.89V404.81 M91.5 397.89V404.81 M92.5 392.1V397.5 M93.5 392.1V397.5 M94.5 392.1V397.5 M96.5 394.2V396.8 M100.5 396.33V399.87 M101.5 403.54V407.96 M103.5 403.54V407.96 M105.5 397.17V402.53 M106.5 397.17V402.53 M107.5 397.17V402.53 M108.5 397.17V402.53 M111.5 411.82V414.48 M112.5 411.82V414.48 M114.5 416.56V426.44 M118.5 428.08V436.92 M120.5 413.46V419.64 M121.5 413.46V419.64 M122.5 405.4V417.1 M123.5 402.88V409.12 M126.5 407.54V411.96 M127.5 407.54V411.96 M128.5 407.54V411.96 M130.5 407.54V411.96 M133.5 396.8V407.2 M136.5 400.33V403.87 M137.5 400.33V403.87 M138.5 394.4V399.6 M139.5 394.4V399.6 M142.5 394.4V399.6 M143.5 386.48V400.52 M146.5 364.12V370.88 M147.5 364.12V370.88 M148.5 359.5V367.1 M149.5 357.92V362.08 M150.5 357.92V362.08 M151.5 366.4V371.6 M152.5 367.22V374.18 M153.5 372.23V375.77 M154.5 372.23V375.77 M156.5 379.87V385.23 M159.5 384.72V399.28 M166.5 408.61V417.09 M170.5 420.28V426.52 M172.5 408.58V422.82 M173.5 405.7V413.7 M174.5 405.7V413.7 M175.5 404.4V409.6 M176.5 404.4V409.6 M177.5 404.4V409.6 M178.5 404.4V409.6 M179.5 404.4V409.6 M181.5 411.4V416.6 M185.5 414.52V419.98 M188.5 394.36V401.64 M191.5 399.61V403.09 M192.5 399.61V403.09 M193.5 393.53V406.17 M194.5 393.53V406.17 M196.5 409.92V414.08 M197.5 409.92V414.08 M198.5 412.32V421.68 M200.5 416.88V423.12 M201.5 416.88V423.12 M202.5 415.68V419.32 M204.5 407.32V416.68 M205.5 406.26V413.34 M207.5 410.16V414.84 M208.5 410.16V414.84 M209.5 407.88V414.12 M210.5 407.4V412.6 M211.5 388.4V406.6 M214.5 372.6V380.4 M218.5 368.74V375.76 M219.5 368.02V373.48 M220.5 368.02V373.48 M221.5 360.57V371.13 M223.5 357.69V362.01 M224.5 358.89V365.81 M227.5 356.56V366.44 M228.5 357.4V369.1 M230.5 369.33V372.87 M231.5 375.08V383.92 M237.5 387.34V393.06 M238.5 384.53V392.17 M239.5 383.11V387.69 M240.5 383.11V387.69 M243.5 369.6V377.4 M245.5 357.69V362.01 M246.5 357.69V362.01 M247.5 358.89V365.81 M248.5 361.4V366.6 M249.5 361.4V366.6 M251.5 350.42V361.08 M252.5 350.42V361.08 M253.5 347.95V353.25 M254.5 347.95V353.25 M256.5 332.94V342.56 M258.5 325.46V329.94 M259.5 317.56V327.44 M265.5 308.88V315.12 M266.5 308.88V315.12 M267.5 313.16V317.84 M268.5 313.16V317.84 M272.5 301.54V307.06 M273.5 299.1V300.4 M275.5 288.08V296.92 M276.5 287.29V294.41 M277.5 287.29V294.41 M279.5 277.06V284.14 M281.5 284.33V289.37 M282.5 284.33V289.37 M284.5 251.85V277.95 M285.5 245.2V247.8 M286.5 245.2V247.8 M287.5 248.51V258.29 M293.5 257.63V261.17 M294.5 257.63V261.17 M295.5 257.63V261.17 M297.5 257.63V261.17 M302.5 247.29V254.41 M303.5 243.1V245.5 M304.5 243.1V245.5 M306.5 234.4V239.6 M307.5 234.4V239.6 M308.5 233.18V239.22 M310.5 233.18V239.22 M311.5 237.74V253.66 M313.5 244.28V255.72 M315.5 259.33V262.87 M316.5 252.72V260.78 M317.5 251.88V258.12 M318.5 256.8V273.7 M324.5 260.89V267.81 M327.5 246.4V251.6 M328.5 250.14V263.46 M330.5 256.6V265.5 M332.5 267.68V271.32 M337.5 274.6V282.4 M339.5 273.4V278.6 M340.5 276.28V287.72 M341.5 282.66V289.74 M344.5 287.27V290.03 M345.5 281.78V290.62 M346.5 292.05V297.35 M349.5 286.06V293.14 M351.5 272.72V280.78 M353.5 268.65V271.35 M354.5 268.65V271.35 M355.5 254.44V266.86 M356.5 249.7V262.9 M358.5 246.46V252.64 M360.5 252.46V256.94 M361.5 252.46V256.94 M362.5 255.73V267.27 M363.5 260.9V268.9 M366.5 272.94V277.36 M368.5 281.46V285.94 M369.5 281.46V285.94 M370.5 282.2V284.8 M372.5 282.2V284.8 M373.5 279.69V284.01 M375.5 279.69V284.01 M377.5 275.68V279.32 M378.5 266.79V276.51 M379.5 266.79V276.51 M380.5 266.79V276.51 M382.5 276.11V280.69 M384.5 275.05V280.35 M389.5 279.33V282.87 M390.5 279.33V282.87 M393.5 263.08V271.92 M394.5 262.6V270.4 M396.5 262.84V271.16 M398.5 270.97V273.73 M399.5 277.63V281.17 M400.5 277.63V281.17 M404.5 267.7V272.7 M407.5 252.81V259.99 M408.5 251.3V255.2 M409.5 254.49V256.21 M412.5 259.21V266.39 M417.5 266.43V268.67 M421.5 244.56V247.94 M422.5 240.34V245.86 M423.5 241.62V249.88 M424.5 246.33V251.37 M428.5 263.47V266.23 M429.5 258.77V260.43 M430.5 258.77V260.43 M432.5 249.11V255.19 M434.5 248.34V252.76 M436.5 239.44V247.76 M437.5 237.64V242.06 M438.5 244.3V247.1 M439.5 237.08V244.82 M442.5 226.54V229.86 M443.5 224.64V229.26 M446.5 214.14V219.86 M448.5 220.68V224.32 M449.5 220.68V224.32 M450.5 220.68V224.32 M455.5 221.5V226.9 M456.5 221.5V226.9 M457.5 215.68V219.32 M458.5 215.68V219.32 M459.5 215.68V219.32 M460.5 210.36V217.64 M461.5 209.09V213.61 M463.5 213.46V219.64 M464.5 213.46V219.64 M465.5 210.72V218.78 M466.5 209.5V214.9 M467.5 209.5V214.9 M468.5 212.23V215.77 M469.5 196.12V210.68 M471.5 184.82V188.78 M472.5 183.84V188.46 M474.5 170.23V184.17 M476.5 166.73V173.07 M477.5 169.96V172.04 M479.5 168.52V171.18 M480.5 168.08V176.92 M481.5 161.85V174.95 M482.5 157.94V162.56 M485.5 159.76V165.74 M486.5 152.01V163.29 M487.5 149.56V155.54 M489.5 130.29V142.41 M490.5 126.93V131.77 M491.5 114.01V127.69 M492.5 109.69V114.01 M496.5 120.32V125.58 M497.5 120.32V125.58 M500.5 117.36V123.54 M501.5 116.95V122.25 M503.5 111.44V115.86 M505.5 102.94V107.36 M506.5 105.8V116.4 M510.5 84.86V94.54 M517.5 104.52V112.38 M521.5 110.62V113.28 M523.5 104.16V111.24 M525.5 106.2V117.7 M529.5 86.54V96.36 M530.5 84.88V91.12 M531.5 74.82V77.48 M533.5 76.46V82.64 M535.5 68.43V81.27 M536.5 68.43V81.27 M537.5 75.5V87 M538.5 75.5V87 M540.5 74.82V77.48 M541.5 81.78V99.52 M543.5 94.28V105.72 M544.5 103.32V108.58 M546.5 104.16V111.24 M548.5 108.79V118.51 M549.5 113.88V120.12 M552.5 110.17V115.53 M553.5 101.5V106.9 M555.5 112.26V118.44 M556.5 113.48V122.32 M557.5 118.5V123.9 M558.5 118.5V123.9 M560.5 95.4V100.6 M561.5 93.88V100.12 M562.5 92.68V96.32 M563.5 92.68V96.32 M564.5 83.79V93.51 M565.5 82.11V88.19 M568.5 92.27V95.03 M569.5 94.31V101.49 M570.5 95.83V101.97 M571.5 83.92V86.58 M572.5 83.92V86.58 M573.5 81.34V85.76 M576.5 73.08V81.92 M577.5 72.29V79.41 M578.5 67.12V77.78 M580.5 64.65V69.95 M581.5 56.9V67.5 M582.5 54.45V59.75 M583.5 52.44V55.56 M585.5 52.87V56.93 M586.5 53.63V57.17 M588.5 63.96V79.04 M589.5 64.39V80.41 M590.5 83.92V86.58 M591.5 83.92V86.58 M592.5 84.69V89.01 M594.5 85.98V89.42 M596.5 78.94V89.66 M600.5 97.08V105.92 M602.5 95.4V100.6 M604.5 93.09V97.61 M606.5 91.95V97.25 M607.5 91.13V94.67 M608.5 91.13V94.67 M609.5 91.95V97.25 M610.5 93.09V97.61 M612.5 89.29V96.41 M614.5 89.29V96.41 M619.5 95.02V99.38 M622.5 85.17V90.53 M623.5 85.17V90.53 M627.5 63.68V67.32 M629.5 60.46V65.14 M630.5 56.58V63.92 M633.5 52.15V54.65 M634.5 48.35V53.45 M635.5 40.54V49.06 M637.5 41.5V52.1 M638.5 41.5V52.1 M639.5 57.94V62.56 M640.5 57.94V62.56" stroke="#4a4a4a" stroke-width="1" fill="none"/>
<path d="M1.5 374.5 L2.5 376.5 L3.5 352 L4.5 352 L5.5 347 L6.5 342 L7.5 359.5 L8.5 359.5 L9.5 314.85 L10.5 314.85 L11.5 323 L12.5 330 L13.5 337 L14.5 340.4 L15.5 343.8 L16.5 343.8 L17.5 349.5 L18.5 356.25 L19.5 363 L20.5 354.75 L21.5 346.5 L22.5 346.5 L23.5 353 L24.5 359.5 L25.5 374 L26.5 374 L27.5 374 L28.5 381.25 L29.5 388.5 L30.5 388.5 L31.5 392 L32.5 405 L33.5 405 L34.5 410.75 L35.5 416.5 L36.5 416.5 L37.5 414 L38.5 414 L39.5 414 L40.5 414 L41.5 421 L42.5 421 L43.5 421 L44.5 421 L45.5 410.38 L46.5 399.75 L47.5 399.75 L48.5 390.3 L49.5 390.3 L50.5 390.3 L51.5 399.5 L52.5 399.5 L53.5 399.5 L54.5 399.5 L55.5 399 L56.5 399 L57.5 399 L58.5 383.5 L59.5 383.5 L60.5 383.5 L61.5 374 L62.5 374 L63.5 374 L64.5 374 L65.5 370.65 L66.5 370.65 L67.5 370.65 L68.5 375.83 L69.5 381 L70.5 381.5 L71.5 381.5 L72.5 383.5 L73.5 376 L74.5 376 L75.5 369 L76.5 362 L77.5 362 L78.5 362 L79.5 368.5 L80.5 380.3 L81.5 387 L82.5 382.5 L83.5 385 L84.5 387 L85.5 387 L86.5 387 L87.5 401.5 L88.5 401.5 L89.5 401.35 L90.5 401.35 L91.5 401.35 L92.5 394.8 L93.5 394.8 L94.5 394.8 L95.5 394.8 L96.5 395.5 L97.5 395.5 L98.5 398.1 L99.5 398.1 L100.5 398.1 L101.5 405.75 L102.5 405.75 L103.5 405.75 L104.5 399.85 L105.5 399.85 L106.5 399.85 L107.5 399.85 L108.5 399.85 L109.5 401.35 L110.5 405.2 L111.5 413.15 L112.5 413.15 L113.5 420.8 L114.5 421.5 L115.5 421.5 L116.5 426.5 L117.5 432.5 L118.5 432.5 L119.5 432.5 L120.5 416.55 L121.5 416.55 L122.5 411.25 L123.5 406 L124.5 406 L125.5 406 L126.5 409.75 L127.5 409.75 L128.5 409.75 L129.5 409.75 L130.5 409.75 L131.5 402 L132.5 402 L133.5 402 L134.5 402.1 L135.5 402.1 L136.5 402.1 L137.5 402.1 L138.5 397 L139.5 397 L140.5 397 L141.5 397 L142.5 397 L143.5 393.5 L144.5 386 L145.5 370.7 L146.5 367.5 L147.5 367.5 L148.5 363.3 L149.5 360 L150.5 360 L151.5 369 L152.5 370.7 L153.5 374 L154.5 374 L155.5 379.15 L156.5 382.55 L157.5 385.95 L158.5 386.25 L159.5 392 L160.5 397.5 L161.5 397.5 L162.5 407.25 L163.5 407.25 L164.5 412 L165.5 412.85 L166.5 412.85 L167.5 417.5 L168.5 417.5 L169.5 417.5 L170.5 423.4 L171.5 423.4 L172.5 415.7 L173.5 409.7 L174.5 409.7 L175.5 407 L176.5 407 L177.5 407 L178.5 407 L179.5 407 L180.5 410.5 L181.5 414 L182.5 414 L183.5 414 L184.5 417.25 L185.5 417.25 L186.5 417.25 L187.5 398 L188.5 398 L189.5 398 L190.5 398 L191.5 401.35 L192.5 401.35 L193.5 399.85 L194.5 399.85 L195.5 401.85 L196.5 412 L197.5 412 L198.5 417 L199.5 420 L200.5 420 L201.5 420 L202.5 417.5 L203.5 417.5 L204.5 412 L205.5 409.8 L206.5 410 L207.5 412.5 L208.5 412.5 L209.5 411 L210.5 410 L211.5 397.5 L212.5 394 L213.5 381.5 L214.5 376.5 L215.5 374 L216.5 374 L217.5 374 L218.5 372.25 L219.5 370.75 L220.5 370.75 L221.5 365.85 L222.5 359.85 L223.5 359.85 L224.5 362.35 L225.5 365 L226.5 361.5 L227.5 361.5 L228.5 363.25 L229.5 371.1 L230.5 371.1 L231.5 379.5 L232.5 380.8 L233.5 386.8 L234.5 386.8 L235.5 386.8 L236.5 389.35 L237.5 390.2 L238.5 388.35 L239.5 385.4 L240.5 385.4 L241.5 385.4 L242.5 373.5 L243.5 373.5 L244.5 368.35 L245.5 359.85 L246.5 359.85 L247.5 362.35 L248.5 364 L249.5 364 L250.5 357.25 L251.5 355.75 L252.5 355.75 L253.5 350.6 L254.5 350.6 L255.5 342.1 L256.5 337.75 L257.5 335.2 L258.5 327.7 L259.5 322.5 L260.5 318 L261.5 318 L262.5 321.35 L263.5 321.35 L264.5 312 L265.5 312 L266.5 312 L267.5 315.5 L268.5 315.5 L269.5 313.5 L270.5 313.5 L271.5 307.5 L272.5 304.3 L273.5 299.75 L274.5 299.75 L275.5 292.5 L276.5 290.85 L277.5 290.85 L278.5 280.6 L279.5 280.6 L280.5 282.75 L281.5 286.85 L282.5 286.85 L283.5 264.9 L284.5 264.9 L285.5 246.5 L286.5 246.5 L287.5 253.4 L288.5 255.1 L289.5 255.1 L290.5 255.1 L291.5 260.25 L292.5 260.25 L293.5 259.4 L294.5 259.4 L295.5 259.4 L296.5 259.4 L297.5 259.4 L298.5 266.2 L299.5 267.05 L300.5 260.2 L301.5 250.85 L302.5 250.85 L303.5 244.3 L304.5 244.3 L305.5 239.3 L306.5 237 L307.5 237 L308.5 236.2 L309.5 236.2 L310.5 236.2 L311.5 245.7 L312.5 250 L313.5 250 L314.5 261.1 L315.5 261.1 L316.5 256.75 L317.5 255 L318.5 265.25 L319.5 269.6 L320.5 274.8 L321.5 274.8 L322.5 274.8 L323.5 268.85 L324.5 264.35 L325.5 249 L326.5 249 L327.5 249 L328.5 256.8 L329.5 261.05 L330.5 261.05 L331.5 269.5 L332.5 269.5 L333.5 273.5 L334.5 276 L335.5 276 L336.5 281.85 L337.5 278.5 L338.5 276 L339.5 276 L340.5 282 L341.5 286.2 L342.5 286.2 L343.5 288.65 L344.5 288.65 L345.5 286.2 L346.5 294.7 L347.5 294.7 L348.5 291.3 L349.5 289.6 L350.5 282.7 L351.5 276.75 L352.5 276.75 L353.5 270 L354.5 270 L355.5 260.65 L356.5 256.3 L357.5 249.55 L358.5 249.55 L359.5 254.7 L360.5 254.7 L361.5 254.7 L362.5 261.5 L363.5 264.9 L364.5 264.9 L365.5 275.15 L366.5 275.15 L367.5 279.45 L368.5 283.7 L369.5 283.7 L370.5 283.5 L371.5 283.5 L372.5 283.5 L373.5 281.85 L374.5 281.85 L375.5 281.85 L376.5 277.5 L377.5 277.5 L378.5 271.65 L379.5 271.65 L380.5 271.65 L381.5 278.4 L382.5 278.4 L383.5 278.4 L384.5 277.7 L385.5 277.7 L386.5 277.7 L387.5 277.7 L388.5 281.1 L389.5 281.1 L390.5 281.1 L391.5 275.95 L392.5 271.7 L393.5 267.5 L394.5 266.5 L395.5 265.4 L396.5 267 L397.5 272.35 L398.5 272.35 L399.5 279.4 L400.5 279.4 L401.5 276.85 L402.5 275.95 L403.5 273.2 L404.5 270.2 L405.5 267 L406.5 261.15 L407.5 256.4 L408.5 253.25 L409.5 255.35 L410.5 254.25 L411.5 260.1 L412.5 262.8 L413.5 263.25 L414.5 263.8 L415.5 266.5 L416.5 267.05 L417.5 267.55 L418.5 261.2 L419.5 254.7 L420.5 246.75 L421.5 246.25 L422.5 243.1 L423.5 245.75 L424.5 248.85 L425.5 254.2 L426.5 260.15 L427.5 264.85 L428.5 264.85 L429.5 259.6 L430.5 259.6 L431.5 255.85 L432.5 252.15 L433.5 250.55 L434.5 250.55 L435.5 248.95 L436.5 243.6 L437.5 239.85 L438.5 245.7 L439.5 240.95 L440.5 238.25 L441.5 234 L442.5 228.2 L443.5 226.95 L444.5 225.1 L445.5 217 L446.5 217 L447.5 218.75 L448.5 222.5 L449.5 222.5 L450.5 222.5 L451.5 226.85 L452.5 226.85 L453.5 226.85 L454.5 225.9 L455.5 224.2 L456.5 224.2 L457.5 217.5 L458.5 217.5 L459.5 217.5 L460.5 214 L461.5 211.35 L462.5 211.35 L463.5 216.55 L464.5 216.55 L465.5 214.75 L466.5 212.2 L467.5 212.2 L468.5 214 L469.5 203.4 L470.5 199.7 L471.5 186.8 L472.5 186.15 L473.5 186.15 L474.5 177.2 L475.5 169.9 L476.5 169.9 L477.5 171 L478.5 170.15 L479.5 169.85 L480.5 172.5 L481.5 168.4 L482.5 160.25 L483.5 160.25 L484.5 160.2 L485.5 162.75 L486.5 157.65 L487.5 152.55 L488.5 140 L489.5 136.35 L490.5 129.35 L491.5 120.85 L492.5 111.85 L493.5 113.65 L494.5 113.65 L495.5 117.85 L496.5 122.95 L497.5 122.95 L498.5 123 L499.5 123 L500.5 120.45 L501.5 119.6 L502.5 119.6 L503.5 113.65 L504.5 109.4 L505.5 105.15 L506.5 111.1 L507.5 112.8 L508.5 104.2 L509.5 94.9 L510.5 89.7 L511.5 82 L512.5 73.5 L513.5 73.5 L514.5 90.65 L515.5 98.2 L516.5 108.45 L517.5 108.45 L518.5 114.45 L519.5 117.85 L520.5 117.85 L521.5 111.95 L522.5 111.95 L523.5 107.7 L524.5 105.95 L525.5 111.95 L526.5 106.8 L527.5 95.75 L528.5 95.75 L529.5 91.45 L530.5 88 L531.5 76.15 L532.5 76.15 L533.5 79.55 L534.5 79.55 L535.5 74.85 L536.5 74.85 L537.5 81.25 L538.5 81.25 L539.5 76.15 L540.5 76.15 L541.5 90.65 L542.5 98.35 L543.5 100 L544.5 105.95 L545.5 105.95 L546.5 107.7 L547.5 109.4 L548.5 113.65 L549.5 117 L550.5 117 L551.5 115.35 L552.5 112.85 L553.5 104.2 L554.5 110.15 L555.5 115.35 L556.5 117.9 L557.5 121.2 L558.5 121.2 L559.5 102.5 L560.5 98 L561.5 97 L562.5 94.5 L563.5 94.5 L564.5 88.65 L565.5 85.15 L566.5 93.65 L567.5 93.65 L568.5 93.65 L569.5 97.9 L570.5 98.9 L571.5 85.25 L572.5 85.25 L573.5 83.55 L574.5 82.65 L575.5 82.65 L576.5 77.5 L577.5 75.85 L578.5 72.45 L579.5 67.3 L580.5 67.3 L581.5 62.2 L582.5 57.1 L583.5 54 L584.5 54 L585.5 54.9 L586.5 55.4 L587.5 69 L588.5 71.5 L589.5 72.4 L590.5 85.25 L591.5 85.25 L592.5 86.85 L593.5 87.7 L594.5 87.7 L595.5 80 L596.5 84.3 L597.5 84.3 L598.5 92 L599.5 101.5 L600.5 101.5 L601.5 98 L602.5 98 L603.5 97 L604.5 95.35 L605.5 95.35 L606.5 94.6 L607.5 92.9 L608.5 92.9 L609.5 94.6 L610.5 95.35 L611.5 95.35 L612.5 92.85 L613.5 92.85 L614.5 92.85 L615.5 92.85 L616.5 92 L617.5 92 L618.5 97.2 L619.5 97.2 L620.5 89.4 L621.5 89.4 L622.5 87.85 L623.5 87.85 L624.5 77 L625.5 67.5 L626.5 67.5 L627.5 65.5 L628.5 63.65 L629.5 62.8 L630.5 60.25 L631.5 55.6 L632.5 54.5 L633.5 53.4 L634.5 50.9 L635.5 44.8 L636.5 41.05 L637.5 46.8 L638.5 46.8 L639.5 60.25 L640.5 60.25" stroke="#303030" stroke-width="0.75" fill="none" stroke-linejoin="round"/>
<path d="M92.5 387.7V400 M96.5 388V398 M115.5 404V420 M150.5 347.7V362 M159.5 378V394 M177.5 393.6V402 M188.5 390V400 M216.5 362V370 M249.5 359V375 M279.5 272V280 M286.5 232V245 M301.5 239V245 M306.5 219.4V233 M311.5 225V231 M327.5 241.5V246 M331.5 260.6V268 M346.5 273.4V279 M357.5 242.8V246 M368.5 280V293 M374.5 284V290.4 M383.5 276V291 M390.5 280V294.7 M408.5 244V250 M428.5 264V270.7 M446.5 210.6V213 M452.5 214V222 M477.5 168V172 M492.5 105V108 M505.5 97.4V101 M512.5 64.3V66 M519.5 118V129.8 M532.5 66V74 M536.5 61.7V63 M582.5 46V53 M599.5 100V110.7 M638.5 32V37" stroke="#b0b0b0" stroke-width="1" fill="none"/>
<path d="M0 0.5H900" stroke="#a8a8a8" stroke-width="1"/>
<path d="M0.5 1V462" stroke="#b0b0b0" stroke-width="1"/>
<path d="M878.5 1V461.5M0 461.5H879" stroke="#c4c4c4" stroke-width="1" fill="none"/>
<path d="M638.5 1L642.5 1L640.5 3.5Z" fill="#909090"/>
<g><text x="880.2" y="14.6" font-size="5.2" textLength="15.6" lengthAdjust="spacingAndGlyphs" fill="#1a1a1a" class="b">1.20725</text><text x="880.2" y="45" font-size="5.2" textLength="15.6" lengthAdjust="spacingAndGlyphs" fill="#1a1a1a" class="b">1.19770</text><text x="880.2" y="75.4" font-size="5.2" textLength="15.6" lengthAdjust="spacingAndGlyphs" fill="#1a1a1a" class="b">1.18815</text><text x="880.2" y="105.8" font-size="5.2" textLength="15.6" lengthAdjust="spacingAndGlyphs" fill="#1a1a1a" class="b">1.17865</text><text x="880.2" y="121" font-size="5.2" textLength="15.6" lengthAdjust="spacingAndGlyphs" fill="#1a1a1a" class="b">1.17385</text><text x="880.2" y="151.4" font-size="5.2" textLength="15.6" lengthAdjust="spacingAndGlyphs" fill="#1a1a1a" class="b">1.16430</text><text x="880.2" y="166.6" font-size="5.2" textLength="15.6" lengthAdjust="spacingAndGlyphs" fill="#1a1a1a" class="b">1.15955</text><text x="880.2" y="181.8" font-size="5.2" textLength="15.6" lengthAdjust="spacingAndGlyphs" fill="#1a1a1a" class="b">1.15480</text><text x="880.2" y="197" font-size="5.2" textLength="15.6" lengthAdjust="spacingAndGlyphs" fill="#1a1a1a" class="b">1.15000</text><text x="880.2" y="212.2" font-size="5.2" textLength="15.6" lengthAdjust="spacingAndGlyphs" fill="#1a1a1a" class="b">1.14525</text><text x="880.2" y="227.4" font-size="5.2" textLength="15.6" lengthAdjust="spacingAndGlyphs" fill="#1a1a1a" class="b">1.14045</text><text x="880.2" y="242.6" font-size="5.2" textLength="15.6" lengthAdjust="spacingAndGlyphs" fill="#1a1a1a" class="b">1.13570</text><text x="880.2" y="257.8" font-size="5.2" textLength="15.6" lengthAdjust="spacingAndGlyphs" fill="#1a1a1a" class="b">1.13095</text><text x="880.2" y="273" font-size="5.2" textLength="15.6" lengthAdjust="spacingAndGlyphs" fill="#1a1a1a" class="b">1.12615</text><text x="880.2" y="288.2" font-size="5.2" textLength="15.6" lengthAdjust="spacingAndGlyphs" fill="#1a1a1a" class="b">1.12140</text><text x="880.2" y="303.4" font-size="5.2" textLength="15.6" lengthAdjust="spacingAndGlyphs" fill="#1a1a1a" class="b">1.11660</text><text x="880.2" y="318.6" font-size="5.2" textLength="15.6" lengthAdjust="spacingAndGlyphs" fill="#1a1a1a" class="b">1.11185</text><text x="880.2" y="333.8" font-size="5.2" textLength="15.6" lengthAdjust="spacingAndGlyphs" fill="#1a1a1a" class="b">1.10710</text><text x="880.2" y="349" font-size="5.2" textLength="15.6" lengthAdjust="spacingAndGlyphs" fill="#1a1a1a" class="b">1.10230</text><text x="880.2" y="364.2" font-size="5.2" textLength="15.6" lengthAdjust="spacingAndGlyphs" fill="#1a1a1a" class="b">1.09755</text><text x="880.2" y="379.4" font-size="5.2" textLength="15.6" lengthAdjust="spacingAndGlyphs" fill="#1a1a1a" class="b">1.09275</text><text x="880.2" y="394.6" font-size="5.2" textLength="15.6" lengthAdjust="spacingAndGlyphs" fill="#1a1a1a" class="b">1.08800</text><text x="880.2" y="409.8" font-size="5.2" textLength="15.6" lengthAdjust="spacingAndGlyphs" fill="#1a1a1a" class="b">1.08325</text><text x="880.2" y="425" font-size="5.2" textLength="15.6" lengthAdjust="spacingAndGlyphs" fill="#1a1a1a" class="b">1.07845</text><text x="880.2" y="440.2" font-size="5.2" textLength="15.6" lengthAdjust="spacingAndGlyphs" fill="#1a1a1a" class="b">1.07370</text><text x="880.2" y="455.4" font-size="5.2" textLength="15.6" lengthAdjust="spacingAndGlyphs" fill="#1a1a1a" class="b">1.06890</text></g>
<g><rect x="878.5" y="59.2" width="18.5" height="5" fill="#000"/><text x="880.3" y="63.6" font-size="5.0" textLength="15.4" lengthAdjust="spacingAndGlyphs" fill="#fff">1.19175</text><rect x="878.5" y="25.8" width="18.5" height="5.1" fill="#cc1177"/><text x="880.3" y="30.3" font-size="5.0" textLength="15.4" lengthAdjust="spacingAndGlyphs" fill="#fff">1.20238</text><rect x="878.5" y="35.8" width="18.5" height="5.1" fill="#ff00ff"/><text x="880.3" y="40.3" font-size="5.0" textLength="15.4" lengthAdjust="spacingAndGlyphs" fill="#fff">1.19934</text><rect x="878.5" y="45.5" width="18.5" height="5.1" fill="#1e90ff"/><text x="880.3" y="50" font-size="5.0" textLength="15.4" lengthAdjust="spacingAndGlyphs" fill="#fff">1.19629</text><rect x="878.5" y="55.2" width="18.5" height="5.1" fill="#ff8c00"/><text x="880.3" y="59.7" font-size="5.0" textLength="15.4" lengthAdjust="spacingAndGlyphs" fill="#fff">1.19324</text><rect x="878.5" y="64.8" width="18.5" height="5.1" fill="#ff4500"/><text x="880.3" y="69.3" font-size="5.0" textLength="15.4" lengthAdjust="spacingAndGlyphs" fill="#fff">1.19019</text><rect x="878.5" y="74.6" width="18.5" height="5.1" fill="#556b2f"/><text x="880.3" y="79.1" font-size="5.0" textLength="15.4" lengthAdjust="spacingAndGlyphs" fill="#fff">1.18713</text><rect x="878.5" y="84.4" width="18.5" height="5.1" fill="#1e90ff"/><text x="880.3" y="88.9" font-size="5.0" textLength="15.4" lengthAdjust="spacingAndGlyphs" fill="#fff">1.18408</text><rect x="878.5" y="93.9" width="18.5" height="5.1" fill="#556b2f"/><text x="880.3" y="98.4" font-size="5.0" textLength="15.4" lengthAdjust="spacingAndGlyphs" fill="#fff">1.18103</text><rect x="878.5" y="103.8" width="18.5" height="5.1" fill="#ff4500"/><text x="880.3" y="108.3" font-size="5.0" textLength="15.4" lengthAdjust="spacingAndGlyphs" fill="#fff">1.17798</text><rect x="878.5" y="113.6" width="18.5" height="5.1" fill="#ff8c00"/><text x="880.3" y="118.1" font-size="5.0" textLength="15.4" lengthAdjust="spacingAndGlyphs" fill="#fff">1.17493</text><rect x="878.5" y="123.1" width="18.5" height="5.1" fill="#1e90ff"/><text x="880.3" y="127.6" font-size="5.0" textLength="15.4" lengthAdjust="spacingAndGlyphs" fill="#fff">1.17187</text><rect x="878.5" y="133" width="18.5" height="5.1" fill="#ff00ff"/><text x="880.3" y="137.5" font-size="5.0" textLength="15.4" lengthAdjust="spacingAndGlyphs" fill="#fff">1.16882</text><rect x="878.5" y="143" width="18.5" height="5.1" fill="#cc1177"/><text x="880.3" y="147.5" font-size="5.0" textLength="15.4" lengthAdjust="spacingAndGlyphs" fill="#fff">1.16577</text></g>
<g><text x="1.2" y="468.2" font-size="5.2" textLength="24.53" lengthAdjust="spacingAndGlyphs" fill="#1a1a1a" class="b">26 Mar 2020</text><text x="31.2" y="468.2" font-size="5.2" textLength="22.34" lengthAdjust="spacingAndGlyphs" fill="#1a1a1a" class="b">2 Apr 16:00</text><text x="61.2" y="468.2" font-size="5.2" textLength="24.77" lengthAdjust="spacingAndGlyphs" fill="#1a1a1a" class="b">10 Apr 00:00</text><text x="91.2" y="468.2" font-size="5.2" textLength="24.77" lengthAdjust="spacingAndGlyphs" fill="#1a1a1a" class="b">17 Apr 08:00</text><text x="121.2" y="468.2" font-size="5.2" textLength="24.77" lengthAdjust="spacingAndGlyphs" fill="#1a1a1a" class="b">24 Apr 16:00</text><text x="151.2" y="468.2" font-size="5.2" textLength="24.04" lengthAdjust="spacingAndGlyphs" fill="#1a1a1a" class="b">4 May 00:00</text><text x="181.2" y="468.2" font-size="5.2" textLength="26.14" lengthAdjust="spacingAndGlyphs" fill="#1a1a1a" class="b">11 May 08:00</text><text x="211.2" y="468.2" font-size="5.2" textLength="26.47" lengthAdjust="spacingAndGlyphs" fill="#1a1a1a" class="b">18 May 16:00</text><text x="241.2" y="468.2" font-size="5.2" textLength="26.47" lengthAdjust="spacingAndGlyphs" fill="#1a1a1a" class="b">26 May 00:00</text><text x="271.2" y="468.2" font-size="5.2" textLength="22.83" lengthAdjust="spacingAndGlyphs" fill="#1a1a1a" class="b">2 Jun 08:00</text><text x="301.2" y="468.2" font-size="5.2" textLength="22.83" lengthAdjust="spacingAndGlyphs" fill="#1a1a1a" class="b">9 Jun 16:00</text><text x="331.2" y="468.2" font-size="5.2" textLength="25.26" lengthAdjust="spacingAndGlyphs" fill="#1a1a1a" class="b">17 Jun 00:00</text><text x="361.2" y="468.2" font-size="5.2" textLength="25.26" lengthAdjust="spacingAndGlyphs" fill="#1a1a1a" class="b">24 Jun 08:00</text><text x="391.2" y="468.2" font-size="5.2" textLength="21.37" lengthAdjust="spacingAndGlyphs" fill="#1a1a1a" class="b">1 Jul 16:00</text><text x="421.2" y="468.2" font-size="5.2" textLength="21.37" lengthAdjust="spacingAndGlyphs" fill="#1a1a1a" class="b">9 Jul 00:00</text><text x="451.2" y="468.2" font-size="5.2" textLength="23.8" lengthAdjust="spacingAndGlyphs" fill="#1a1a1a" class="b">16 Jul 08:00</text><text x="481.2" y="468.2" font-size="5.2" textLength="23.8" lengthAdjust="spacingAndGlyphs" fill="#1a1a1a" class="b">23 Jul 16:00</text><text x="511.2" y="468.2" font-size="5.2" textLength="23.8" lengthAdjust="spacingAndGlyphs" fill="#1a1a1a" class="b">31 Jul 00:00</text><text x="541.2" y="468.2" font-size="5.2" textLength="23.32" lengthAdjust="spacingAndGlyphs" fill="#1a1a1a" class="b">7 Aug 08:00</text><text x="571.2" y="468.2" font-size="5.2" textLength="25.75" lengthAdjust="spacingAndGlyphs" fill="#1a1a1a" class="b">14 Aug 16:00</text><text x="601.2" y="468.2" font-size="5.2" textLength="25.75" lengthAdjust="spacingAndGlyphs" fill="#1a1a1a" class="b">24 Aug 00:00</text><text x="631.2" y="468.2" font-size="5.2" textLength="25.75" lengthAdjust="spacingAndGlyphs" fill="#1a1a1a" class="b">31 Aug 08:00</text></g>
<path d="M1.5 461V463.5 M31.5 461V463.5 M61.5 461V463.5 M91.5 461V463.5 M121.5 461V463.5 M151.5 461V463.5 M181.5 461V463.5 M211.5 461V463.5 M241.5 461V463.5 M271.5 461V463.5 M301.5 461V463.5 M331.5 461V463.5 M361.5 461V463.5 M391.5 461V463.5 M421.5 461V463.5 M451.5 461V463.5 M481.5 461V463.5 M511.5 461V463.5 M541.5 461V463.5 M571.5 461V463.5 M601.5 461V463.5 M631.5 461V463.5" stroke="#dcdcdc" stroke-width="1"/>
<path d="M2.2 3.2H5.2L3.7 5.2Z" fill="#000"/>
<text x="7.6" y="6.8" font-size="5.2" textLength="91.8" lengthAdjust="spacingAndGlyphs" fill="#2a2a2a">EURUSD,H4  1.19341 1.19341 1.19054 1.19175</text>
</svg>
</body></html>
